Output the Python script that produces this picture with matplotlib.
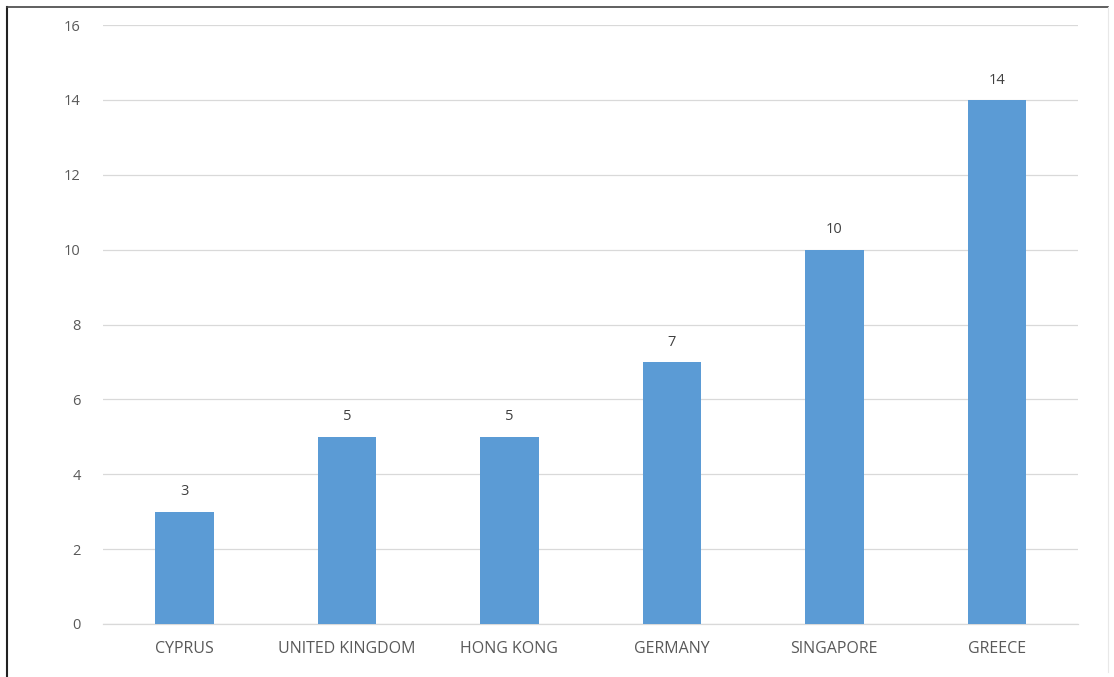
import matplotlib.pyplot as plt
from matplotlib.lines import Line2D

countries = ["CYPRUS", "UNITED KINGDOM", "HONG KONG", "GERMANY", "SINGAPORE", "GREECE"]
counts = [3, 5, 5, 7, 10, 14]
y_ticks = [0, 2, 4, 6, 8, 10, 12, 14, 16]

plt.rcParams['font.family'] = ['Open Sans', 'DejaVu Sans']

fig = plt.figure(figsize=(11.14, 6.77), dpi=100)
ax = fig.add_axes([0.0925, 0.0783, 0.8752, 0.8847])

x = range(len(countries))
ax.bar(x, counts, width=0.36, color='#5B9BD5', zorder=3)

for xi, v in zip(x, counts):
    ax.text(xi, v + 0.33, str(v), ha='center', va='bottom', fontsize=10.5, color='#404040')

ax.set_xlim(-0.5, len(countries) - 0.5)
ax.set_ylim(0, 16)
ax.set_yticks(y_ticks)
ax.set_xticks(list(x))
ax.set_xticklabels(countries)
ax.tick_params(axis='both', length=0, labelsize=10.5, labelcolor='#595959')
ax.tick_params(axis='x', pad=12, labelsize=11.5)
ax.tick_params(axis='y', pad=16)
ax.grid(axis='y', color='#D9D9D9', linewidth=0.9, zorder=0)
for s in ['top', 'right', 'left']:
    ax.spines[s].set_visible(False)
ax.spines['bottom'].set_color('#D9D9D9')
ax.spines['bottom'].set_linewidth(0.9)

# frame around the chart
w, h = 1114, 677
fig.add_artist(Line2D([7 / w, 7 / w], [1 - 7 / h, 1 - 676 / h], color='#222222', lw=1.5))
fig.add_artist(Line2D([7 / w, 1108 / w], [1 - 7 / h, 1 - 7 / h], color='#444444', lw=1.2))
fig.add_artist(Line2D([1108 / w, 1108 / w], [1 - 7 / h, 1 - 672 / h], color='#E8E8E8', lw=0.8))

fig.savefig('out.png', dpi=100)
